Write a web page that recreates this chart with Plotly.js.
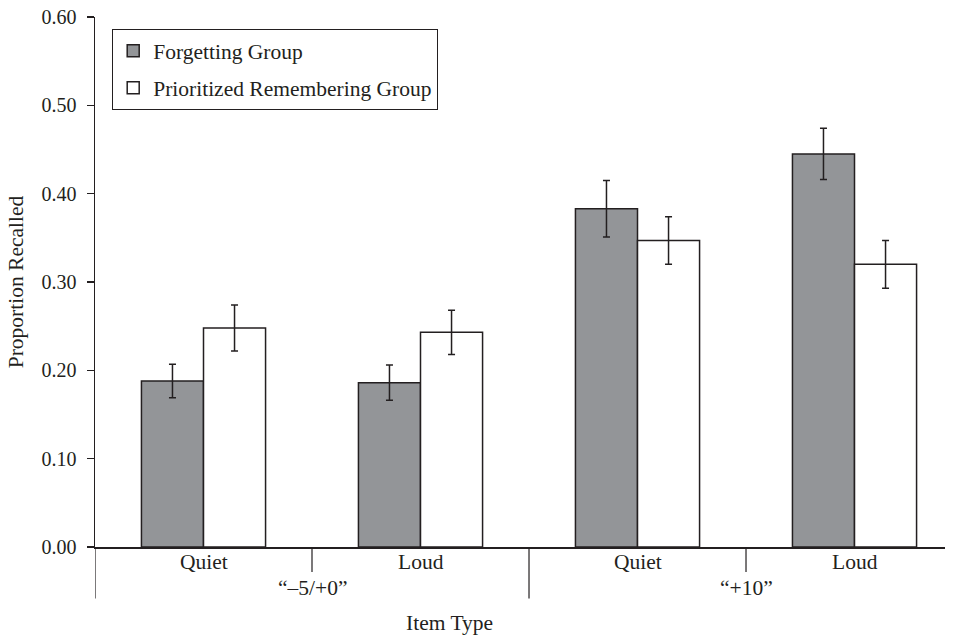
<!DOCTYPE html>
<html>
<head>
<meta charset="utf-8">
<script src="https://cdn.plot.ly/plotly-3.0.1.min.js"></script>
<style>
  html, body { margin: 0; padding: 0; background: #ffffff; }
  #chart { width: 954px; height: 638px; }
</style>
</head>
<body>
<div id="chart"></div>
<script>
// Item types (sub-category, then group)
const itemLabels = ['Quiet', 'Loud', 'Quiet', 'Loud'];
const itemPositions = [0, 1, 2, 3];
const groupLabels = ['\u201c\u20135/+0\u201d', '\u201c+10\u201d'];
const groupPositions = [0.5, 2.5];

// Proportion recalled, with error-bar half-widths
const forgettingMean = [0.188, 0.186, 0.383, 0.445];
const forgettingErr  = [0.019, 0.020, 0.032, 0.029];
const rememberMean   = [0.248, 0.243, 0.347, 0.320];
const rememberErr    = [0.026, 0.025, 0.027, 0.027];

const seriesNames = ['Forgetting Group', 'Prioritized Remembering Group'];
const yTicks = [0, 0.1, 0.2, 0.3, 0.4, 0.5, 0.6];

const INK = '#231f20';
const GREY = '#939598';
const SERIF = '"Liberation Serif", "Times New Roman", serif';
const TEXT_SIZE = 21.5;

function barTrace(name, y, err, fill, group) {
  return {
    type: 'bar',
    name: name,
    x: itemPositions,
    y: y,
    legendgroup: group,
    marker: { color: fill, line: { color: INK, width: 1.5 } },
    error_y: { type: 'data', array: err, visible: true, color: INK, thickness: 1.5, width: 3.5 },
    hoverinfo: 'none'
  };
}

const data = [
  barTrace(seriesNames[0], forgettingMean, forgettingErr, GREY, 'f'),
  barTrace(seriesNames[1], rememberMean, rememberErr, '#ffffff', 'p')
];

// Sub-category labels, group labels and the divider lines under the axis
const annotations = [];
itemLabels.forEach((t, i) => annotations.push({
  x: itemPositions[i], xref: 'x', y: -0.029, yref: 'paper',
  text: t, showarrow: false, xanchor: 'center', yanchor: 'middle',
  font: { family: SERIF, size: TEXT_SIZE, color: INK }
}));
groupLabels.forEach((t, i) => annotations.push({
  x: groupPositions[i], xref: 'x', y: -0.077, yref: 'paper',
  text: t, showarrow: false, xanchor: 'center', yanchor: 'middle',
  font: { family: SERIF, size: TEXT_SIZE, color: INK }
}));
annotations.push({
  x: 0.4165, xref: 'paper', y: -0.143, yref: 'paper',
  text: 'Item Type', showarrow: false, xanchor: 'center', yanchor: 'middle',
  font: { family: SERIF, size: TEXT_SIZE, color: INK }
});

const shapes = [];
[-0.5, 1.5].forEach(x => shapes.push({
  type: 'line', xref: 'x', yref: 'paper', x0: x, x1: x, y0: 0, y1: -0.097,
  line: { color: INK, width: 1.2 }
}));
[0.5, 2.5].forEach(x => shapes.push({
  type: 'line', xref: 'x', yref: 'paper', x0: x, x1: x, y0: 0, y1: -0.047,
  line: { color: INK, width: 1.2 }
}));

const layout = {
  width: 954,
  height: 638,
  margin: { l: 95, r: 9, t: 17, b: 91, pad: 0 },
  paper_bgcolor: '#ffffff',
  plot_bgcolor: '#ffffff',
  font: { family: SERIF, size: 20, color: INK },
  barmode: 'group',
  bargap: 0.428,
  bargroupgap: 0,
  showlegend: true,
  legend: {
    x: 0.02, y: 0.977, xanchor: 'left', yanchor: 'top',
    bgcolor: '#ffffff', bordercolor: INK, borderwidth: 1.2,
    font: { family: SERIF, size: TEXT_SIZE, color: INK },
    traceorder: 'grouped', tracegroupgap: 6
  },
  xaxis: {
    range: [-0.5, 3.417],
    showline: true, linecolor: INK, linewidth: 1.5,
    ticks: '', showticklabels: false, showgrid: false, zeroline: false,
    fixedrange: true
  },
  yaxis: {
    range: [0, 0.6],
    tickvals: yTicks, tickformat: '.2f',
    showline: true, linecolor: INK, linewidth: 1.5,
    ticks: 'outside', ticklen: 7, tickwidth: 1.2, tickcolor: INK,
    ticklabelstandoff: 6,
    tickfont: { family: SERIF, size: 20, color: INK },
    showgrid: false, zeroline: false,
    title: { text: 'Proportion Recalled', standoff: 12, font: { family: SERIF, size: TEXT_SIZE, color: INK } },
    fixedrange: true
  },
  annotations: annotations,
  shapes: shapes
};

Plotly.newPlot('chart', data, layout, { displayModeBar: false, staticPlot: true });
</script>
</body>
</html>
